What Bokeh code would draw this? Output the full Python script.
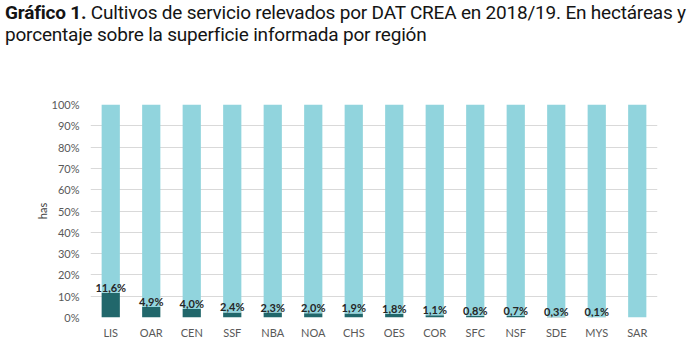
from bokeh.plotting import figure
from bokeh.layouts import column
from bokeh.models import ColumnDataSource, PrintfTickFormatter, FixedTicker, Div
from bokeh.core.properties import value
from bokeh.embed import file_html
from bokeh.resources import INLINE

regions = ["LIS", "OAR", "CEN", "SSF", "NBA", "NOA", "CHS", "OES", "COR", "SFC", "NSF", "SDE", "MYS", "SAR"]
pct_service = [11.6, 4.9, 4.0, 2.4, 2.3, 2.0, 1.9, 1.8, 1.1, 0.8, 0.7, 0.3, 0.1, 0.0]
pct_labels = ["11,6%", "4,9%", "4,0%", "2,4%", "2,3%", "2,0%", "1,9%", "1,8%", "1,1%", "0,8%", "0,7%", "0,3%", "0,1%", ""]
pct_rest = [100 - v for v in pct_service]
y_ticks = [0, 10, 20, 30, 40, 50, 60, 70, 80, 90, 100]
title_bold = "Gráfico 1."
title_line1 = "Cultivos de servicio relevados por DAT CREA en 2018/19. En hectáreas y"
title_line2 = "porcentaje sobre la superficie informada por región"

DARK = "#21676B"
LIGHT = "#91D4DD"
FONT = "Lato"

W = 692
TH = 50
H = 357 - TH

# ---- title ----
title_html = (
    '<div style="font-family:Roboto,sans-serif;font-size:19px;line-height:21.5px;'
    'color:#141414;padding:2px 0 0 5px;white-space:nowrap;letter-spacing:-0.2px;">'
    f'<b>{title_bold}</b> {title_line1}<br>{title_line2}</div>'
)
t = Div(text=title_html, width=W, height=TH, margin=0)

# ---- chart ----
src = ColumnDataSource(dict(region=regions, service=pct_service, rest=pct_rest, label=pct_labels))

p = figure(x_range=regions, y_range=(0, 100), width=W, height=H,
           output_backend="svg", toolbar_location=None,
           min_border_left=90, min_border_right=35, min_border_top=104 - TH, min_border_bottom=40)
p.outline_line_color = None
p.background_fill_color = "white"
p.border_fill_color = "white"

p.vbar_stack(["service", "rest"], x="region", width=0.45, source=src,
             color=[DARK, LIGHT], line_color=None)

p.text(x="region", y="service", text="label", source=src,
       text_align="center", text_baseline="bottom", y_offset=1,
       text_font=value(FONT), text_font_style="bold", text_font_size="11px",
       text_color="#262626")

p.yaxis.ticker = FixedTicker(ticks=y_ticks)
p.yaxis.formatter = PrintfTickFormatter(format="%d%%")
p.yaxis.axis_line_color = None
p.yaxis.major_tick_line_color = None
p.yaxis.minor_tick_line_color = None
p.yaxis.major_label_text_font = FONT
p.yaxis.major_label_text_font_size = "11px"
p.yaxis.major_label_text_color = "#595959"
p.yaxis.major_label_standoff = 5
p.yaxis.axis_label = "has"
p.yaxis.axis_label_text_font = FONT
p.yaxis.axis_label_text_font_size = "11px"
p.yaxis.axis_label_text_font_style = "normal"
p.yaxis.axis_label_text_color = "#404040"
p.yaxis.axis_label_standoff = 0

p.xaxis.axis_line_color = None
p.xaxis.major_tick_line_color = None
p.xaxis.major_label_text_font = FONT
p.xaxis.major_label_text_font_size = "11px"
p.xaxis.major_label_text_color = "#595959"
p.xaxis.major_label_standoff = 2

p.xgrid.grid_line_color = None
p.ygrid.grid_line_color = "#D9D9D9"
p.ygrid.grid_line_width = 1

layout = column(t, p, spacing=0)
open("out.html", "w").write(file_html(layout, INLINE))
